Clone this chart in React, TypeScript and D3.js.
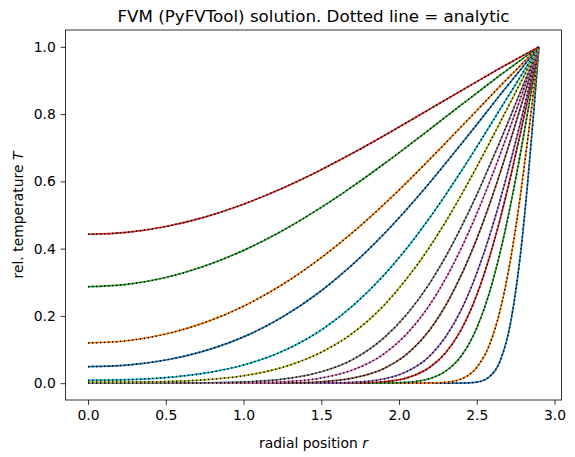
import { useEffect, useRef } from "react";
import * as d3 from "d3";

// radial grid (r) shared by all profiles, R = 2.9
const rPos = [0, 0.25, 0.5, 0.75, 1.0, 1.25, 1.5, 1.7, 1.9, 2.05, 2.2, 2.3, 2.4, 2.5, 2.58, 2.65, 2.72, 2.78, 2.83, 2.87, 2.9];

// temperature profiles, earliest time first
const tStep01 = [0, 0, 0, 0, 0, 0, 0, 0, 0, 0, 0, 0, 0.0002, 0.003, 0.0186, 0.0657, 0.186, 0.379, 0.61, 0.827, 1];
const tStep02 = [0, 0, 0, 0, 0, 0, 0, 0, 0, 0, 0.0004, 0.0027, 0.0125, 0.0468, 0.112, 0.216, 0.375, 0.556, 0.733, 0.884, 1];
const tStep03 = [0, 0, 0, 0, 0, 0, 0, 0, 0.0003, 0.0027, 0.014, 0.0357, 0.0805, 0.164, 0.267, 0.388, 0.536, 0.681, 0.812, 0.919, 1];
const tStep04 = [0, 0, 0, 0, 0, 0, 0, 0.0006, 0.0043, 0.0156, 0.0481, 0.0907, 0.159, 0.262, 0.372, 0.487, 0.619, 0.742, 0.848, 0.935, 1];
const tStep05 = [0, 0, 0, 0, 0, 0, 0.0003, 0.0026, 0.0124, 0.0345, 0.082, 0.138, 0.218, 0.327, 0.435, 0.544, 0.664, 0.773, 0.868, 0.943, 1];
const tStep06 = [0, 0, 0, 0, 0, 0.0008, 0.0043, 0.0148, 0.043, 0.0862, 0.16, 0.231, 0.321, 0.429, 0.529, 0.625, 0.727, 0.817, 0.893, 0.954, 1];
const tStep07 = [0, 0, 0, 0.0002, 0.0008, 0.004, 0.0154, 0.039, 0.0861, 0.1467, 0.2345, 0.311, 0.401, 0.504, 0.595, 0.68, 0.768, 0.845, 0.91, 0.961, 1];
const tStep08 = [0.0003, 0.0003, 0.0004, 0.001, 0.0037, 0.012, 0.034, 0.07, 0.1336, 0.205, 0.299, 0.376, 0.464, 0.56, 0.644, 0.719, 0.797, 0.865, 0.921, 0.966, 1];
const tStep09 = [0.003, 0.0035, 0.005, 0.01, 0.022, 0.047, 0.092, 0.148, 0.23, 0.311, 0.407, 0.48, 0.559, 0.643, 0.713, 0.775, 0.838, 0.892, 0.937, 0.973, 1];
const tStep10 = [0.0084, 0.0103, 0.0168, 0.03, 0.0541, 0.0948, 0.1583, 0.2292, 0.3198, 0.4013, 0.4935, 0.5604, 0.6301, 0.7024, 0.7618, 0.8145, 0.8662, 0.9108, 0.948, 0.978, 1];
const tStep11 = [0.049, 0.0537, 0.069, 0.0961, 0.1376, 0.1965, 0.2748, 0.3522, 0.4421, 0.5171, 0.5975, 0.6537, 0.7109, 0.7687, 0.8157, 0.857, 0.8969, 0.9313, 0.96, 0.983, 1];
const tStep12 = [0.1197, 0.1262, 0.1462, 0.1801, 0.2288, 0.2932, 0.3731, 0.4475, 0.5303, 0.597, 0.6668, 0.7144, 0.7624, 0.8106, 0.8494, 0.8833, 0.916, 0.944, 0.9673, 0.9861, 1];
const tStep13 = [0.2869, 0.2938, 0.3143, 0.3482, 0.3949, 0.4535, 0.5227, 0.5845, 0.6508, 0.7027, 0.7558, 0.7915, 0.8272, 0.8625, 0.8909, 0.9156, 0.9392, 0.9596, 0.9764, 0.99, 1];
const tStep14 = [0.4427, 0.4485, 0.4657, 0.4938, 0.5321, 0.5796, 0.6347, 0.6833, 0.7348, 0.7748, 0.8155, 0.8427, 0.8697, 0.8965, 0.9179, 0.9365, 0.9543, 0.9696, 0.9822, 0.9924, 1];

const xTicks = [0, 0.5, 1, 1.5, 2, 2.5, 3];
const yTicks = [0, 0.2, 0.4, 0.6, 0.8, 1.0];

// matplotlib tab10 cycle
const tab10 = ["#1f77b4", "#ff7f0e", "#2ca02c", "#d62728", "#9467bd", "#8c564b", "#e377c2", "#7f7f7f", "#bcbd22", "#17becf"];

const W = 575;
const H = 457;
const ax = { left: 65.5, right: 561.5, top: 30, bottom: 400 };
const FONT = "DejaVu Sans, sans-serif";

const App = () => {
  const svgRef = useRef(null);

  useEffect(() => {
    const svg = d3.select(svgRef.current);
    svg.selectAll("*").remove();

    const profiles = [tStep01, tStep02, tStep03, tStep04, tStep05, tStep06, tStep07,
      tStep08, tStep09, tStep10, tStep11, tStep12, tStep13, tStep14];

    const x = d3.scaleLinear().domain([-0.145, 3.045]).range([ax.left, ax.right]);
    const y = d3.scaleLinear().domain([-0.05, 1.05]).range([ax.bottom, ax.top]);

    const line = d3.line<number>()
      .x((_, i) => x(rPos[i]))
      .y(d => y(d))
      .curve(d3.curveMonotoneX);

    const plot = svg.append("g");
    profiles.forEach((prof, k) => {
      // FVM solution
      plot.append("path")
        .attr("d", line(prof))
        .attr("fill", "none")
        .attr("stroke", tab10[k % 10])
        .attr("stroke-width", 1.7);
      // analytic, dotted black
      plot.append("path")
        .attr("d", line(prof))
        .attr("fill", "none")
        .attr("stroke", "black")
        .attr("stroke-width", 1.5)
        .attr("stroke-dasharray", "1.3,2.7");
    });

    // frame
    svg.append("rect")
      .attr("x", ax.left).attr("y", ax.top)
      .attr("width", ax.right - ax.left).attr("height", ax.bottom - ax.top)
      .attr("fill", "none").attr("stroke", "black").attr("stroke-width", 0.8);

    svg.append("g")
      .attr("transform", `translate(0,${ax.bottom})`)
      .call(d3.axisBottom(x).tickValues(xTicks).tickFormat(d3.format(".1f")).tickSize(4.86).tickPadding(5.6))
      .call(g => g.select(".domain").remove())
      .call(g => g.selectAll(".tick line").attr("stroke-width", 0.8))
      .call(g => g.selectAll(".tick text").attr("font-size", 13.9).attr("font-family", FONT).attr("fill", "black"));

    svg.append("g")
      .attr("transform", `translate(${ax.left},0)`)
      .call(d3.axisLeft(y).tickValues(yTicks).tickFormat(d3.format(".1f")).tickSize(4.86).tickPadding(4.86))
      .call(g => g.select(".domain").remove())
      .call(g => g.selectAll(".tick line").attr("stroke-width", 0.8))
      .call(g => g.selectAll(".tick text").attr("font-size", 13.9).attr("font-family", FONT).attr("fill", "black"));

    // title and labels
    svg.append("text")
      .attr("x", (ax.left + ax.right) / 2).attr("y", 22)
      .attr("text-anchor", "middle")
      .attr("font-family", FONT).attr("font-size", 16.7)
      .text("FVM (PyFVTool) solution. Dotted line = analytic");

    const xl = svg.append("text")
      .attr("x", (ax.left + ax.right) / 2).attr("y", 448)
      .attr("text-anchor", "middle")
      .attr("font-family", FONT).attr("font-size", 13.9);
    xl.append("tspan").text("radial position ");
    xl.append("tspan").attr("font-style", "italic").text("r");

    const yl = svg.append("text")
      .attr("transform", `translate(23,${(ax.top + ax.bottom) / 2}) rotate(-90)`)
      .attr("text-anchor", "middle")
      .attr("font-family", FONT).attr("font-size", 13.9);
    yl.append("tspan").text("rel. temperature ");
    yl.append("tspan").attr("font-style", "italic").text("T");
  }, []);

  return (
    <svg ref={svgRef} width={W} height={H}
      style={{ position: "absolute", left: 0, top: 0, background: "white" }}></svg>
  );
};

export default App;
